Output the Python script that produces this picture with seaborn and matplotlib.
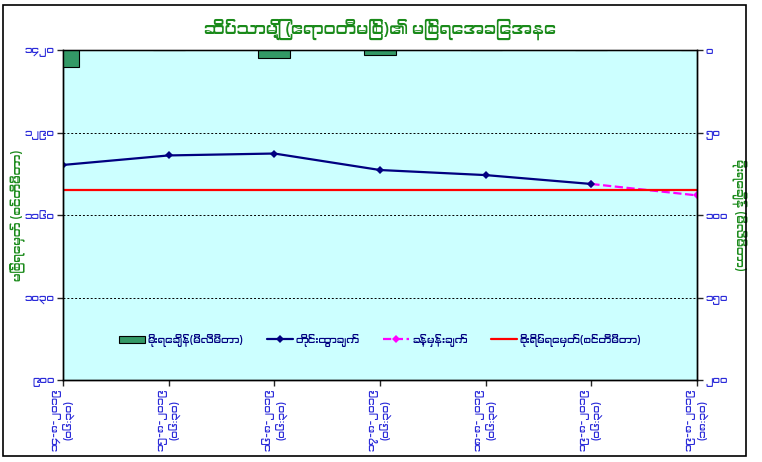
import numpy as np
import pandas as pd
import matplotlib
matplotlib.use("Agg")
import matplotlib.pyplot as plt
import seaborn as sns
from matplotlib import font_manager
from matplotlib.ft2font import FT2Font

# --- data ---
dates = ["၁၄-၈-၂၀၁၉", "၁၅-၈-၂၀၁၉", "၁၆-၈-၂၀၁၉", "၁၇-၈-၂၀၁၉",
         "၁၈-၈-၂၀၁၉", "၁၉-၈-၂၀၁၉", "၁၉-၈-၂၀၁၉"]
times = ["(၀၆:၃၀)", "(၀၆:၃၀)", "(၀၆:၃၀)", "(၀၆:၃၀)",
         "(၀၆:၃၀)", "(၀၆:၃၀)", "(၁၈:၃၀)"]
water_level = [1239, 1254, 1257, 1231, 1223, 1209, np.nan]
forecast = [np.nan, np.nan, np.nan, np.nan, np.nan, 1209, 1191]
rainfall = [10, 0, 5, 3, 0, 0, 0]
warning_level = 1200
left_ticks = [900, 1030, 1160, 1290, 1420]
right_ticks = [0, 50, 100, 150, 200]

title = "ဆိပ်သာမြို့ (ဧရာဝတီမြစ်)၏ မြစ်ရေအခြေအနေ"
left_label = "မြစ်ရေမှတ် (စင်တီမီတာ)"
right_label = "မိုးရေချိန် (မီလီမီတာ)"
legend_names = ["မိုးရေချိန်(မီလီမီတာ)", "တိုင်းထွာချက်", "ခန့်မှန်းချက်",
                "စိုးရိမ်ရေမှတ်(စင်တီမီတာ)"]

MM_DIGITS = str.maketrans("0123456789", "၀၁၂၃၄၅၆၇၈၉")


def mm(n):
    return str(n).translate(MM_DIGITS)


# look for an installed font that has Myanmar glyphs
mm_font = None
candidates = sorted(font_manager.fontManager.ttflist,
                    key=lambda f: ("Myanmar" not in f.name, f.weight != 400))
for f in candidates:
    try:
        if 0x1000 in FT2Font(f.fname).get_charmap():
            mm_font = f.name
            break
    except Exception:
        pass

sns.set_style("white")
families = ([mm_font] if mm_font else []) + ["DejaVu Sans"]
plt.rcParams["font.family"] = families

blue = "#2b2bd9"
green = "#1a8a1a"

x = np.arange(len(dates))
df = pd.DataFrame({"x": x, "level": water_level, "forecast": forecast,
                   "rain": rainfall})

fig = plt.figure(figsize=(7.62, 4.62), dpi=100)
ax = fig.add_axes([0.0827, 0.1775, 0.832, 0.714])
ax.set_facecolor("#ccffff")
ax2 = ax.twinx()

# rainfall bars on inverted right axis
sns.barplot(data=df, x="x", y="rain", ax=ax2, color="#339966",
            edgecolor="black", linewidth=0.8, width=0.3, saturation=1,
            native_scale=True, label=legend_names[0])
ax2.set_ylim(200, 0)

sns.lineplot(data=df, x="x", y="forecast", ax=ax, color="#ff00ff",
             linestyle="--", linewidth=1.6, marker="D", markersize=4,
             markeredgewidth=0, label=legend_names[2])
sns.lineplot(data=df, x="x", y="level", ax=ax, color="#000080",
             linewidth=1.6, marker="D", markersize=4, markeredgewidth=0,
             label=legend_names[1])
ax.axhline(warning_level, color="#ff0000", linewidth=1.6,
           label=legend_names[3])

ax.set_ylim(900, 1420)
ax.set_xlim(0, 6)
ax2.set_xlim(0, 6)
ax.set_yticks(left_ticks)
ax.set_yticklabels([mm(v) for v in left_ticks], color=blue, fontsize=7.5)
ax2.set_yticks(right_ticks)
ax2.set_yticklabels([mm(v) for v in right_ticks], color=blue, fontsize=7.5)
ax.set_xticks(x)
ax.set_xticklabels([d + "\n" + t for d, t in zip(dates, times)],
                   rotation=90, color=blue, fontsize=7.5, va="top",
                   linespacing=1.1)
for v in left_ticks[1:-1]:
    ax.axhline(v, color="black", linestyle=(0, (2, 2)), linewidth=0.7,
               zorder=0.5)

ax.set_xlabel("")
ax.set_ylabel(left_label, color=green, fontsize=8.5, va="center")
ax.yaxis.set_label_coords(-0.07, 0.5)
ax2.set_ylabel(right_label, color=green, fontsize=8.5, rotation=270,
               va="center")
ax2.yaxis.set_label_coords(1.066, 0.5)
ax2.set_xlabel("")
ax.tick_params(axis="both", direction="out", length=4, width=1,
               left=True, bottom=True, pad=2)
ax2.tick_params(axis="y", direction="out", length=4, width=1, right=True,
                pad=2)
for a in (ax, ax2):
    for s in a.spines.values():
        s.set_color("black")
        s.set_linewidth(1)
ax.spines["top"].set_color("#888888")

ax.set_title(title, color=green, fontsize=12, fontweight="bold", pad=12)

# combined legend, one row inside the plot
h1, l1 = ax2.get_legend_handles_labels()
h2, l2 = ax.get_legend_handles_labels()
handles = dict(zip(l1 + l2, h1 + h2))
if ax.get_legend():
    ax.get_legend().remove()
if ax2.get_legend():
    ax2.get_legend().remove()
ax.legend([handles[n] for n in legend_names], legend_names, ncol=4,
          loc="center", bbox_to_anchor=(0.5, 0.12), frameon=False,
          fontsize=7.5, labelcolor="#000080", handlelength=2.5,
          columnspacing=2.2, handletextpad=0.3)

# outer chart border
fig.patches.append(plt.Rectangle((0.004, 0.012), 0.975, 0.978,
                                 transform=fig.transFigure, fill=False,
                                 edgecolor="black", linewidth=1.2))

fig.savefig("out.png", dpi=100)
